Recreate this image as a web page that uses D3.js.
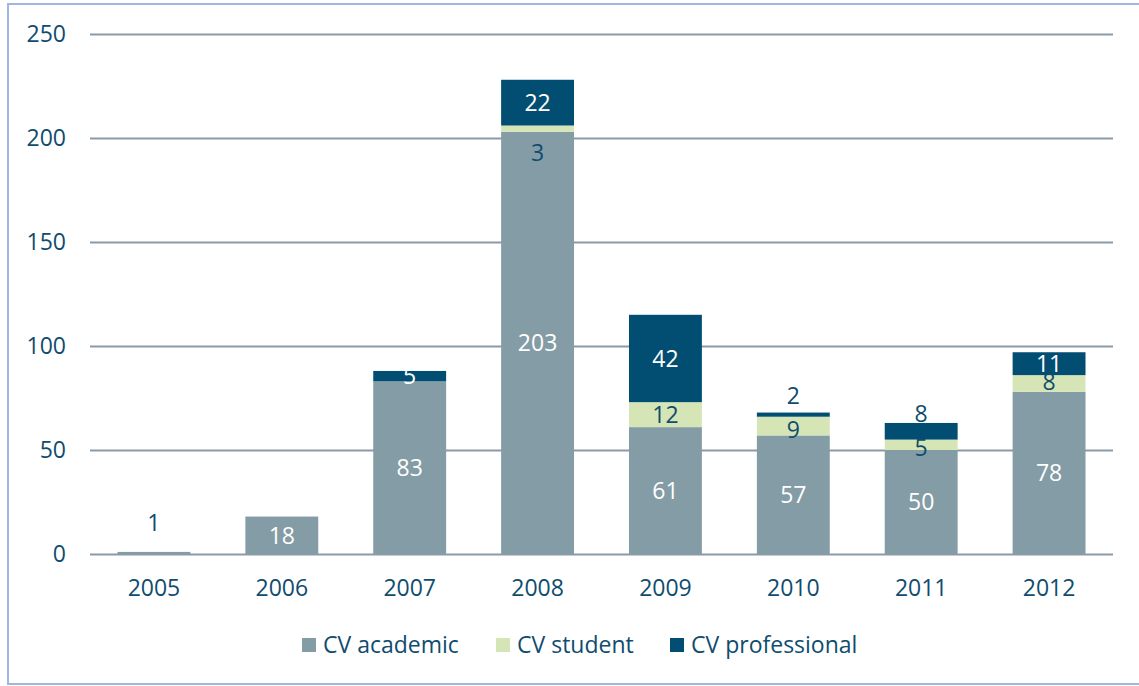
<!DOCTYPE html>
<head>
<meta charset="utf-8">
<style>
    body { margin: 0; background: #fff; }
    svg text { font-family: "Open Sans", "Noto Sans", sans-serif; fill: #0f4c6e; }
    .grid line { stroke: #8c99a6; stroke-width: 2px; }
    .grid .domain { display: none; }
    .axis .domain { display: none; }
</style>
</head>
<body>
<div id="chart"></div>
<script src="https://d3js.org/d3.v7.min.js"></script>
<script>
    // values
    var years = ["2005", "2006", "2007", "2008", "2009", "2010", "2011", "2012"];
    var academic = [1, 18, 83, 203, 61, 57, 50, 78];
    var student = [0, 0, 0, 3, 12, 9, 5, 8];
    var professional = [0, 0, 5, 22, 42, 2, 8, 11];
    var seriesNames = ["CV academic", "CV student", "CV professional"];
    var yTicks = [0, 50, 100, 150, 200, 250];

    var colors = ["#849ca6", "#d6e5b5", "#024e72"];
    var labelColors = ["#ffffff", "#0f4c6e", "#ffffff"];

    // labels that were moved by hand in the original
    var labelShift = {
        "2005-0": {dy: -30, color: "#0f4c6e"},
        "2008-1": {dy: 24},
        "2010-1": {dy: 4},
        "2010-2": {dy: -19, color: "#0f4c6e"},
        "2011-1": {dy: 3},
        "2011-2": {dy: -18, color: "#0f4c6e"},
        "2012-1": {dy: -2},
        "2012-2": {dy: 0}
    };

    var W = 1139, H = 686;
    var margin = {top: 34, left: 90, right: 26, bottom: 132};

    var svg = d3.select("#chart").append("svg")
        .attr("width", W)
        .attr("height", H);

    // outer frame
    svg.append("rect")
        .attr("x", 8).attr("y", 4)
        .attr("width", W + 10).attr("height", H - 6)
        .attr("fill", "none")
        .attr("stroke", "#9fb6e2")
        .attr("stroke-width", 2);

    var x = d3.scaleBand()
        .domain(years)
        .range([margin.left, W - margin.right])
        .paddingInner(0.43)
        .paddingOuter(0.215);

    var y = d3.scaleLinear()
        .domain([0, 250])
        .range([H - margin.bottom, margin.top]);

    // gridlines
    svg.append("g")
        .attr("class", "grid")
        .attr("transform", "translate(" + margin.left + ",0)")
        .call(d3.axisLeft(y).tickValues(yTicks).tickSize(-(W - margin.right - margin.left)).tickFormat(""));

    // y labels
    svg.append("g")
        .attr("class", "axis")
        .attr("transform", "translate(66,0)")
        .call(d3.axisLeft(y).tickValues(yTicks).tickSize(0).tickPadding(0))
        .selectAll("text")
        .attr("font-size", "23px")
        .attr("dy", "0.34em")
        .style("font-family", "'Open Sans', sans-serif")
        .attr("fill", "#0f4c6e");

    // x labels
    svg.append("g")
        .attr("class", "axis")
        .attr("transform", "translate(0," + (H - margin.bottom) + ")")
        .call(d3.axisBottom(x).tickSize(0).tickPadding(0))
        .selectAll("text")
        .attr("font-size", "23px")
        .attr("y", 34)
        .attr("dy", "0.34em")
        .style("font-family", "'Open Sans', sans-serif")
        .attr("fill", "#0f4c6e");

    var table = years.map(function(yr, i) {
        return {year: yr, s0: academic[i], s1: student[i], s2: professional[i]};
    });
    var stacked = d3.stack().keys(["s0", "s1", "s2"])(table);

    var layers = svg.selectAll(".layer")
        .data(stacked)
        .enter().append("g")
        .attr("class", "layer")
        .attr("fill", function(d, i) { return colors[i]; });

    layers.selectAll("rect")
        .data(function(d) { return d.filter(function(p) { return p[1] - p[0] > 0; }); })
        .enter().append("rect")
        .attr("x", function(d) { return x(d.data.year); })
        .attr("y", function(d) { return y(d[1]); })
        .attr("width", x.bandwidth())
        .attr("height", function(d) { return y(d[0]) - y(d[1]); });

    // data labels
    stacked.forEach(function(layer, si) {
        layer.forEach(function(p) {
            var v = p[1] - p[0];
            if (v <= 0) return;
            var key = p.data.year + "-" + si;
            var sh = labelShift[key] || {};
            svg.append("text")
                .attr("x", x(p.data.year) + x.bandwidth() / 2)
                .attr("y", y((p[0] + p[1]) / 2) + (sh.dy || 0))
                .attr("dy", "0.36em")
                .attr("text-anchor", "middle")
                .attr("font-size", "23px")
                .style("fill", sh.color || labelColors[si])
                .text(v);
        });
    });

    // legend
    var legendX = [302, 496, 670];
    var legend = svg.selectAll(".legend")
        .data(seriesNames)
        .enter().append("g")
        .attr("class", "legend")
        .attr("transform", function(d, i) { return "translate(" + legendX[i] + ",645)"; });

    legend.append("rect")
        .attr("x", 0).attr("y", -7)
        .attr("width", 14).attr("height", 14)
        .attr("fill", function(d, i) { return colors[i]; });

    legend.append("text")
        .attr("x", 21)
        .attr("dy", "0.36em")
        .attr("font-size", "23px")
        .text(function(d) { return d; });
</script>
</body>
